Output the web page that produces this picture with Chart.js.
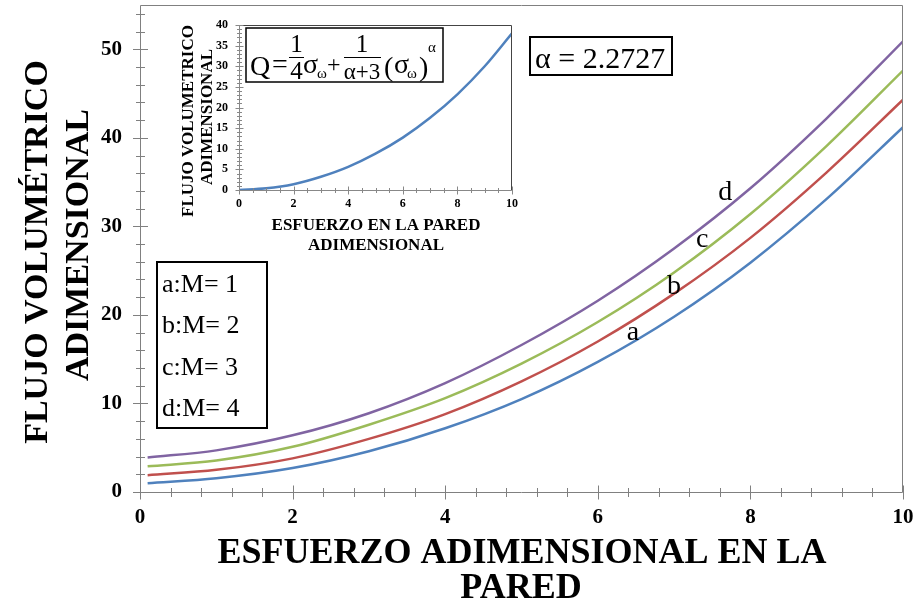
<!DOCTYPE html>
<html>
<head>
<meta charset="utf-8">
<script src="https://cdn.jsdelivr.net/npm/chart.js@4/dist/chart.umd.min.js"></script>
<style>
    html, body { margin: 0; padding: 0; background: #fff; }
    #lienzo { position: relative; width: 917px; height: 605px; }
    #lienzo canvas { position: absolute; left: 0; top: 0; }
    #inset { pointer-events: none; }
</style>
</head>
<body>
<div id="lienzo">
    <canvas id="main" width="917" height="605"></canvas>
    <canvas id="inset" width="917" height="605"></canvas>
</div>
<script>
// Datos
const sigma = [0.1, 1, 2, 3, 4, 5, 6, 7, 8, 9, 10];
const flujoA = [1.0, 1.55, 2.7, 4.6, 7.2, 10.5, 14.7, 19.8, 25.9, 33.1, 41.2];
const flujoB = [1.9, 2.5, 3.8, 6.0, 8.8, 12.5, 17.0, 22.4, 28.7, 36.1, 44.3];
const flujoC = [2.9, 3.55, 5.1, 7.6, 10.6, 14.5, 19.2, 24.8, 31.4, 39.1, 47.6];
const flujoD = [3.9, 4.7, 6.4, 8.9, 12.3, 16.6, 21.6, 27.5, 34.3, 42.2, 50.9];
const etiquetasCurva = ['a', 'b', 'c', 'd'];
const leyendaM = ['a:M= 1', 'b:M= 2', 'c:M= 3', 'd:M= 4'];

const sigmaInset = [0, 1, 2, 3, 4, 5, 6, 7, 8, 9, 10];
const flujoInset = [0, 0.4, 1.4, 3.2, 5.6, 8.8, 12.7, 17.5, 23.2, 30.0, 38.0];

const ticksX = [0, 2, 4, 6, 8, 10];
const ticksY = [0, 10, 20, 30, 40, 50];
const ticksXInset = [0, 2, 4, 6, 8, 10];
const ticksYInset = [0, 5, 10, 15, 20, 25, 30, 35, 40];

const serif = "'Liberation Serif', 'Times New Roman', serif";
const colores = ['#4F81BD', '#C0504D', '#9BBB59', '#8064A2'];
// posición de las letras a-d sobre cada curva (coordenadas de datos)
const posEtiqueta = [[6.46, 17.2], [7.0, 22.4], [7.37, 27.7], [7.67, 33.0]];

function puntos(xs, ys) {
    return xs.map((x, i) => ({ x, y: ys[i] }));
}

function dibujarTicks(ctx, escala, horizontal, desde, hasta, paso, largo, linea) {
    const n = Math.round((hasta - desde) / paso);
    for (let i = 0; i <= n; i++) {
        const p = Math.round(escala.getPixelForValue(desde + i * paso)) + 0.5;
        ctx.beginPath();
        if (horizontal) { ctx.moveTo(p, linea - largo); ctx.lineTo(p, linea + largo); }
        else { ctx.moveTo(linea - largo, p); ctx.lineTo(linea + largo, p); }
        ctx.stroke();
    }
}

function textoVertical(ctx, texto, x, y) {
    ctx.save();
    ctx.translate(x, y);
    ctx.rotate(-Math.PI / 2);
    ctx.textAlign = 'center';
    ctx.textBaseline = 'alphabetic';
    ctx.fillText(texto, 0, 0);
    ctx.restore();
}

// sin márgenes extra de Chart.js: el área del gráfico queda fija
function sinPaddingX(alto) {
    return s => { s.height = alto; s.paddingLeft = 0; s.paddingRight = 0; };
}
function sinPaddingY(ancho) {
    return s => { s.width = ancho; s.paddingTop = 0; s.paddingBottom = 0; };
}

const decoracionPrincipal = {
    id: 'decoracionPrincipal',
    afterDraw(chart) {
        const { ctx, chartArea: a, scales: { x, y } } = chart;
        ctx.save();
        ctx.strokeStyle = '#808080';
        ctx.lineWidth = 1;
        ctx.beginPath();
        ctx.moveTo(a.left + 0.5, a.top + 0.5);
        ctx.lineTo(a.right - 0.5, a.top + 0.5);
        ctx.lineTo(a.right - 0.5, a.bottom + 0.5);
        ctx.lineTo(a.left + 0.5, a.bottom + 0.5);
        ctx.closePath();
        ctx.stroke();

        dibujarTicks(ctx, x, true, 0, 10, 2, 7, a.bottom + 0.5);
        dibujarTicks(ctx, x, true, 0, 10, 0.4, 4.5, a.bottom + 0.5);
        dibujarTicks(ctx, y, false, 0, 50, 10, 7.5, a.left + 0.5);
        dibujarTicks(ctx, y, false, 0, 54, 2, 4.5, a.left + 0.5);

        ctx.fillStyle = '#000';
        ctx.font = `bold 34px ${serif}`;
        textoVertical(ctx, 'FLUJO VOLUMÉTRICO', 47, 252);
        textoVertical(ctx, 'ADIMENSIONAL', 88, 245);

        ctx.font = `bold 36px ${serif}`;
        ctx.textAlign = 'center';
        ctx.fillText('ESFUERZO ADIMENSIONAL EN LA', 522, 563);
        ctx.fillText('PARED', 521, 598);

        // letras de las curvas
        ctx.font = `28px ${serif}`;
        etiquetasCurva.forEach((t, i) => {
            ctx.fillText(t, x.getPixelForValue(posEtiqueta[i][0]), y.getPixelForValue(posEtiqueta[i][1]));
        });

        // cuadro de la leyenda
        ctx.strokeStyle = '#000';
        ctx.lineWidth = 2;
        ctx.strokeRect(157, 262, 110, 166);
        ctx.font = `26px ${serif}`;
        ctx.textAlign = 'left';
        leyendaM.forEach((t, i) => ctx.fillText(t, 162, 292 + i * 41.3));

        // cuadro alfa
        ctx.strokeRect(530, 37, 142, 38);
        ctx.font = `30px ${serif}`;
        ctx.fillText('α = 2.2727', 535, 68);
        ctx.restore();
    }
};

const decoracionInset = {
    id: 'decoracionInset',
    afterDraw(chart) {
        const { ctx, chartArea: a, scales: { x, y } } = chart;
        ctx.save();
        ctx.lineWidth = 1;
        ctx.strokeStyle = '#444';
        ctx.beginPath();
        ctx.moveTo(a.left + 0.5, a.top + 0.5);
        ctx.lineTo(a.right - 0.5, a.top + 0.5);
        ctx.lineTo(a.right - 0.5, a.bottom + 0.5);
        ctx.stroke();
        ctx.strokeStyle = '#888';
        ctx.beginPath();
        ctx.moveTo(a.left + 0.5, a.top + 0.5);
        ctx.lineTo(a.left + 0.5, a.bottom + 0.5);
        ctx.lineTo(a.right - 0.5, a.bottom + 0.5);
        ctx.stroke();

        dibujarTicks(ctx, x, true, 0, 10, 2, 4, a.bottom + 0.5);
        dibujarTicks(ctx, x, true, 0, 10, 0.5, 2.5, a.bottom + 0.5);
        dibujarTicks(ctx, y, false, 0, 40, 5, 4, a.left + 0.5);
        dibujarTicks(ctx, y, false, 0, 40, 1, 2.5, a.left + 0.5);

        ctx.fillStyle = '#000';
        ctx.font = `bold 17px ${serif}`;
        textoVertical(ctx, 'FLUJO VOLUMETRICO', 193, 121);
        textoVertical(ctx, 'ADIMENSIONAL', 212, 117);
        ctx.textAlign = 'center';
        ctx.fillText('ESFUERZO EN LA PARED', 376, 230);
        ctx.fillText('ADIMENSIONAL', 376, 250);

        // fórmula
        ctx.strokeStyle = '#000';
        ctx.lineWidth = 1.5;
        ctx.strokeRect(246, 28, 197, 54);
        ctx.textAlign = 'left';
        ctx.font = `28px ${serif}`;
        ctx.fillText('Q', 250, 75);
        ctx.fillText('=', 272, 73);
        ctx.fillText('σ', 303, 73);
        ctx.fillText('(', 384, 76);
        ctx.fillText('σ', 394, 73);
        ctx.fillText(')', 419, 76);
        ctx.font = `24px ${serif}`;
        ctx.fillText('+', 327, 72);
        ctx.font = `15px ${serif}`;
        ctx.fillText('ω', 317, 78);
        ctx.fillText('ω', 407, 78);
        ctx.fillText('α', 428, 52);
        ctx.lineWidth = 1.2;
        ctx.beginPath();
        ctx.moveTo(289, 57.5); ctx.lineTo(304, 57.5);
        ctx.moveTo(344, 57.5); ctx.lineTo(381, 57.5);
        ctx.stroke();
        ctx.textAlign = 'center';
        ctx.font = `25px ${serif}`;
        ctx.fillText('1', 296.5, 52);
        ctx.fillText('4', 296.5, 79);
        ctx.fillText('1', 362, 52);
        ctx.font = `23px ${serif}`;
        ctx.fillText('α+3', 362, 79);
        ctx.restore();
    }
};

const tickFont = (size) => ({ family: serif, weight: 'bold', size: size });

new Chart(document.getElementById('main'), {
    type: 'line',
    data: {
        datasets: [flujoA, flujoB, flujoC, flujoD].map((serie, i) => ({
            label: etiquetasCurva[i],
            data: puntos(sigma, serie),
            borderColor: colores[i],
            borderWidth: 2.5,
            pointRadius: 0,
            fill: false,
            cubicInterpolationMode: 'monotone'
        }))
    },
    options: {
        responsive: false,
        animation: false,
        devicePixelRatio: 1,
        layout: { padding: { top: 5, right: 14, left: 0, bottom: 0 } },
        plugins: { legend: { display: false }, tooltip: { enabled: false } },
        scales: {
            x: {
                type: 'linear', min: 0, max: 10,
                grid: { display: false, drawTicks: false },
                border: { display: false },
                afterFit: sinPaddingX(113),
                afterBuildTicks: s => { s.ticks = ticksX.map(v => ({ value: v })); },
                ticks: { font: tickFont(21), color: '#000', padding: 13, maxRotation: 0, autoSkip: false }
            },
            y: {
                type: 'linear', min: 0, max: 55,
                grid: { display: false, drawTicks: false },
                border: { display: false },
                afterFit: sinPaddingY(140),
                afterBuildTicks: s => { s.ticks = ticksY.map(v => ({ value: v })); },
                ticks: { font: tickFont(21), color: '#000', padding: 18, autoSkip: false }
            }
        }
    },
    plugins: [decoracionPrincipal]
});

new Chart(document.getElementById('inset'), {
    type: 'line',
    data: {
        datasets: [{
            label: 'Q',
            data: puntos(sigmaInset, flujoInset),
            borderColor: '#4F81BD',
            borderWidth: 2.5,
            pointRadius: 0,
            fill: false,
            cubicInterpolationMode: 'monotone'
        }]
    },
    options: {
        responsive: false,
        animation: false,
        devicePixelRatio: 1,
        layout: { padding: { top: 25, right: 405, left: 0, bottom: 0 } },
        plugins: { legend: { display: false }, tooltip: { enabled: false } },
        scales: {
            x: {
                type: 'linear', min: 0, max: 10,
                grid: { display: false, drawTicks: false },
                border: { display: false },
                afterFit: sinPaddingX(415),
                afterBuildTicks: s => { s.ticks = ticksXInset.map(v => ({ value: v })); },
                ticks: { font: tickFont(12), color: '#000', padding: 7, maxRotation: 0, autoSkip: false }
            },
            y: {
                type: 'linear', min: 0, max: 40,
                grid: { display: false, drawTicks: false },
                border: { display: false },
                afterFit: sinPaddingY(239),
                afterBuildTicks: s => { s.ticks = ticksYInset.map(v => ({ value: v })); },
                ticks: { font: tickFont(12), color: '#000', padding: 11, autoSkip: false }
            }
        }
    },
    plugins: [decoracionInset]
});
</script>
</body>
</html>
